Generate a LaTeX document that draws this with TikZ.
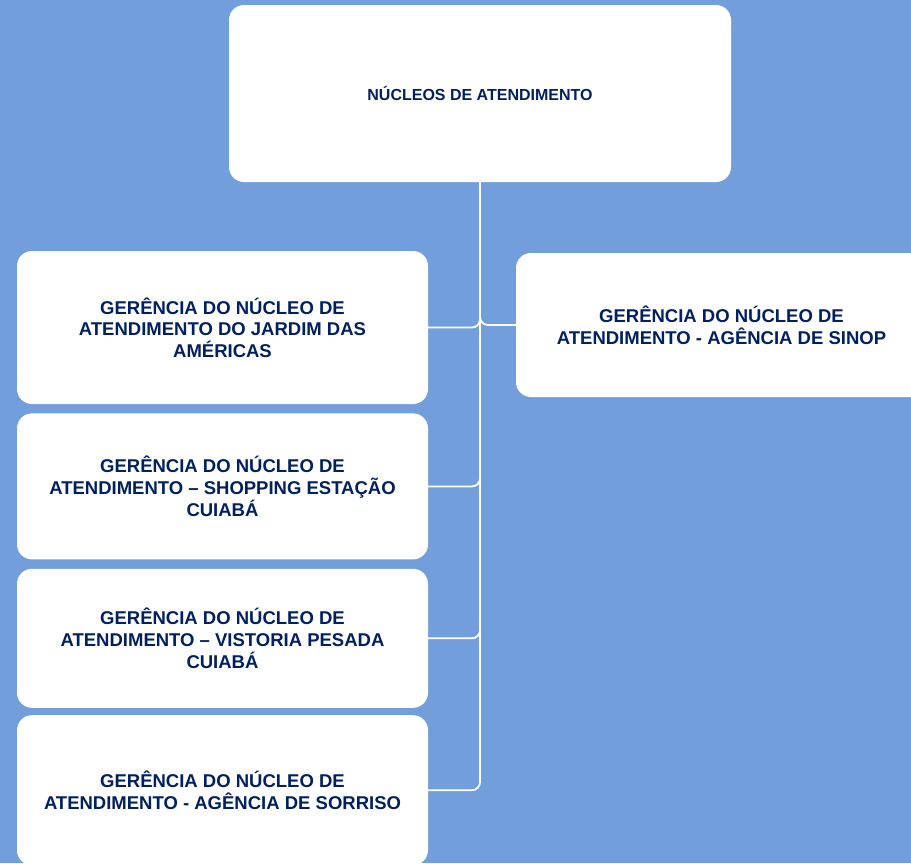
\documentclass[tikz,border=0pt]{standalone}
\usepackage{fontspec}
\setmainfont{Liberation Sans}
\usetikzlibrary{positioning}
\definecolor{bgblue}{RGB}{114,159,219}
\definecolor{navy}{RGB}{0,32,96}

\begin{document}
\begin{tikzpicture}[x=1pt, y=-1pt,
  box/.style={rectangle, rounded corners=15pt, fill=white, align=center,
    text=navy, font=\bfseries\fontsize{18.5}{21.7}\selectfont,
    minimum width=411pt, inner sep=0pt},
  link/.style={draw=white, line width=1.8pt, rounded corners=8pt}]

\useasboundingbox (0,0) rectangle (911,863);
\clip (0,0) rectangle (911,863);
\fill[bgblue] (0,0) rectangle (911,863);

\node[box, minimum width=502pt, minimum height=177pt,
  font=\bfseries\fontsize{16}{19}\selectfont] (0) at (480,93.5) {NÚCLEOS DE ATENDIMENTO};

\node[box, minimum height=153pt] (1) at (222.5,327.5)
  {GERÊNCIA DO NÚCLEO DE\\ATENDIMENTO DO JARDIM DAS\\AMÉRICAS};
\node[box, minimum height=146pt, below=9pt of 1] (2)
  {GERÊNCIA DO NÚCLEO DE\\ATENDIMENTO – SHOPPING ESTAÇÃO\\CUIABÁ};
\node[box, minimum height=139pt, below=9pt of 2] (3)
  {GERÊNCIA DO NÚCLEO DE\\ATENDIMENTO – VISTORIA PESADA\\CUIABÁ};
\node[box, minimum height=150pt, below=7pt of 3] (4)
  {GERÊNCIA DO NÚCLEO DE\\ATENDIMENTO - AGÊNCIA DE SORRISO};
\node[box, minimum height=144pt] (5) at (721.5,325)
  {GERÊNCIA DO NÚCLEO DE\\ATENDIMENTO - AGÊNCIA DE SINOP};

\draw[link] (0.south) |- (1.east);
\draw[link] (0.south) |- (2.east);
\draw[link] (0.south) |- (3.east);
\draw[link] (0.south) |- (4.east);
\draw[link] (0.south) |- (5.west);

\end{tikzpicture}
\end{document}
